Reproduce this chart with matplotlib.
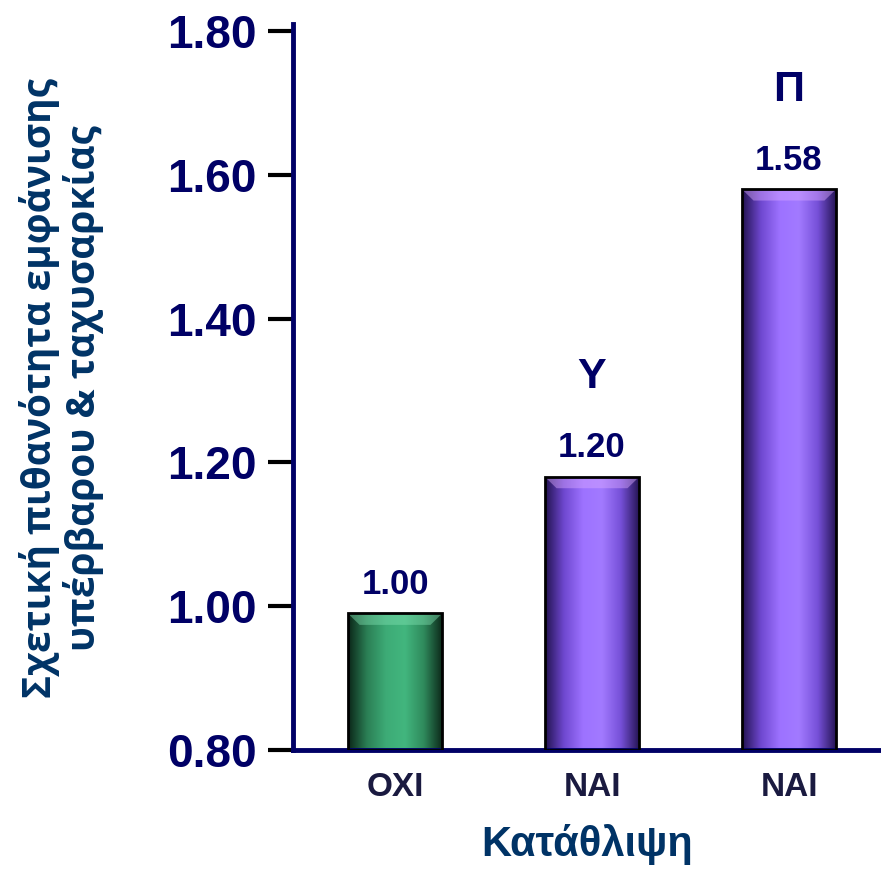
import matplotlib.pyplot as plt
import numpy as np
from matplotlib.colors import LinearSegmentedColormap

categories = ['ΟΧΙ', 'ΝΑΙ', 'ΝΑΙ']
heights = [0.99, 1.18, 1.58]
value_labels = ['1.00', '1.20', '1.58']
letters = ['', 'Υ', 'Π']
yticks = [0.80, 1.00, 1.20, 1.40, 1.60, 1.80]

navy = '#000066'
blue_txt = '#003366'
base = 0.80

fig = plt.figure(figsize=(8.81, 8.73), dpi=100)
ax = fig.add_axes([0.3326, 0.1409, 0.6674, 0.832])

green = LinearSegmentedColormap.from_list('g', ['#0b2618', '#2b7f55', '#3dab76', '#42b67e', '#2f8a5c', '#0b2618'])
purple = LinearSegmentedColormap.from_list('p', ['#221250', '#6f48d0', '#9d72ff', '#a27aff', '#7650d8', '#221250'])
cmaps = [green, purple, purple]
tops = ['#7fe0b0', '#d9a8ff', '#d9a8ff']

width = 0.48
x = np.arange(len(categories))
grad = np.linspace(0, 1, 256).reshape(1, -1)

for xi, h, cm, tc in zip(x, heights, cmaps, tops):
    rect = ax.bar(xi, h - base, width, bottom=base, color='none',
                  edgecolor='black', linewidth=2, zorder=3)[0]
    im = ax.imshow(grad, cmap=cm, aspect='auto', zorder=2,
                   extent=[xi - width / 2, xi + width / 2, base, h])
    im.set_clip_path(rect)
    # top bevel highlight
    bh = 0.016
    ax.fill([xi - width / 2, xi + width / 2, xi + width / 2 - 0.06, xi - width / 2 + 0.06],
            [h, h, h - bh, h - bh], color=tc, alpha=0.45, lw=0, zorder=2.5)

for xi, h, lab in zip(x, heights, value_labels):
    ax.text(xi, h + 0.04, lab, ha='center', va='center', fontsize=25,
            fontweight='bold', color=navy, family='Liberation Sans')
for xi, h, let in zip(x, heights, letters):
    if let:
        ax.text(xi, h + 0.138, let, ha='center', va='center', fontsize=31,
                fontweight='bold', color=navy, family='Liberation Sans')

ax.set_xlim(-0.518, 2.467)
ax.set_ylim(base, 1.81)
ax.set_yticks(yticks)
ax.set_yticklabels([f'{v:.2f}' for v in yticks], fontsize=33, fontweight='bold',
                   color=navy, family='Liberation Sans')
ax.set_xticks(x)
ax.set_xticklabels(categories, fontsize=24, fontweight='bold', color='#1a1a40',
                   family='Liberation Sans')
ax.tick_params(axis='y', length=18, width=3, color='black', pad=8)
ax.tick_params(axis='x', length=0, pad=16)

for s in ['top', 'right']:
    ax.spines[s].set_visible(False)
for s in ['left', 'bottom']:
    ax.spines[s].set_linewidth(3.5)
    ax.spines[s].set_color(navy)

ax.set_xlabel('Κατάθλιψη', fontsize=30, fontweight='bold', color=blue_txt,
              family='Liberation Sans', labelpad=15)
fig.text(0.07, 0.556, 'Σχετική πιθανότητα εμφάνισης\nυπέρβαρου & ταχυσαρκίας',
         rotation=90, ha='center', va='center', fontsize=28, fontweight='bold',
         color=blue_txt, family='Open Sans', linespacing=1.1)

fig.savefig('out.png', dpi=100)
